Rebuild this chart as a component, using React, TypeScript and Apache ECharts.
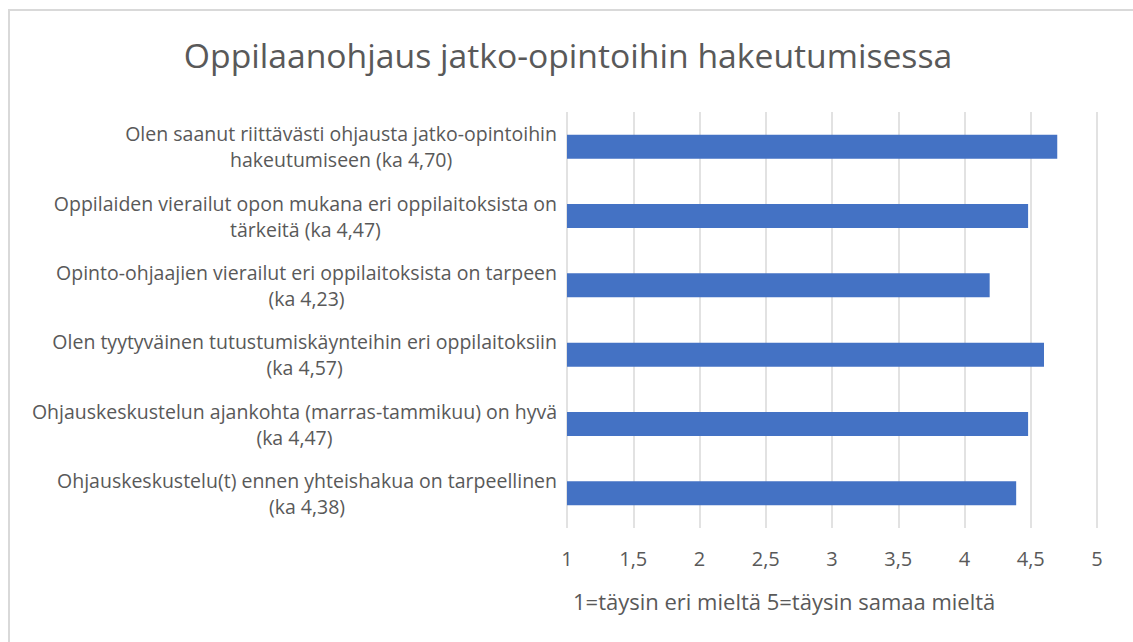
import React, { useEffect, useRef } from "react";
import * as echarts from "echarts";

const titleText = "Oppilaanohjaus jatko-opintoihin hakeutumisessa";
const categories = [
  "Olen saanut riittävästi ohjausta jatko-opintoihin\nhakeutumiseen (ka 4,70)",
  "Oppilaiden vierailut opon mukana eri oppilaitoksista on\ntärkeitä (ka 4,47)",
  "Opinto-ohjaajien vierailut eri oppilaitoksista on tarpeen\n(ka 4,23)",
  "Olen tyytyväinen tutustumiskäynteihin eri oppilaitoksiin\n(ka 4,57)",
  "Ohjauskeskustelun ajankohta (marras-tammikuu) on hyvä\n(ka 4,47)",
  "Ohjauskeskustelu(t) ennen yhteishakua on tarpeellinen\n(ka 4,38)",
];
const values = [4.7, 4.48, 4.19, 4.6, 4.48, 4.39];
const axisTitle = "1=täysin eri mieltä 5=täysin samaa mieltä";
const xMin = 1;
const xMax = 5;
const xStep = 0.5;

export default function App() {
  const ref = useRef<HTMLDivElement>(null);
  useEffect(() => {
    if (!ref.current) return;
    const chart = echarts.init(ref.current, null, { renderer: "svg" });
    const font = "'Open Sans', sans-serif";
    chart.setOption({
      animation: false,
      backgroundColor: "#ffffff",
      title: {
        text: titleText,
        left: 563,
        top: 33,
        textAlign: "center",
        textStyle: { fontFamily: font, fontSize: 33.7, fontWeight: "normal", color: "#595959" },
      },
      graphic: [
        {
          type: "rect",
          shape: { x: 9, y: 10, width: 1140, height: 660 },
          style: { fill: "none", stroke: "#d9d9d9", lineWidth: 2 },
          silent: true,
        },
        {
          type: "text",
          x: 573,
          y: 601,
          style: {
            text: axisTitle,
            fontFamily: font,
            fontSize: 22,
            fill: "#595959",
            textVerticalAlign: "middle",
          },
        },
      ],
      grid: { left: 567, right: 36, top: 112, bottom: 114, containLabel: false },
      xAxis: {
        type: "value",
        min: xMin,
        max: xMax,
        interval: xStep,
        axisLine: { show: false },
        axisTick: { show: false },
        axisLabel: {
          color: "#595959",
          fontFamily: font,
          fontSize: 20,
          margin: 20,
          formatter: (v: number) => String(v).replace(".", ","),
        },
        splitLine: { show: true, lineStyle: { color: "#d9d9d9", width: 1.5 } },
      },
      yAxis: {
        type: "category",
        data: categories,
        inverse: true,
        axisLine: { show: false },
        axisTick: { show: false },
        axisLabel: {
          color: "#595959",
          fontFamily: font,
          fontSize: 19.5,
          lineHeight: 26,
          align: "right",
          margin: 10,
          formatter: (v: string) =>
            v
              .split("\n")
              .map((l) => `{c|${l}}`)
              .join("\n"),
          rich: {
            c: {
              align: "center",
              color: "#595959",
              fontFamily: font,
              fontSize: 19.5,
              lineHeight: 26,
            },
          },
        },
      },
      series: [
        {
          type: "bar",
          data: values,
          barWidth: 24,
          itemStyle: { color: "#4472C4" },
        },
      ],
    });
    return () => chart.dispose();
  }, []);
  return (
    <div
      ref={ref}
      style={{ position: "absolute", left: 0, top: 0, width: 1133, height: 642 }}
    />
  );
}
